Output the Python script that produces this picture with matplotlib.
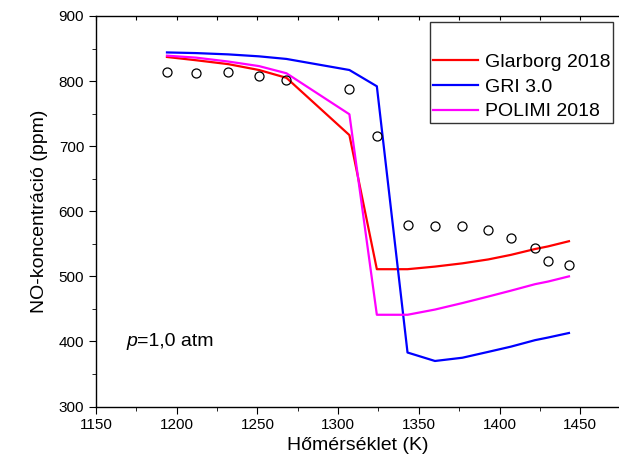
import matplotlib
matplotlib.use("Agg")
import matplotlib.pyplot as plt
from matplotlib.ticker import MultipleLocator

plt.rcParams['font.family'] = ['Liberation Sans', 'DejaVu Sans']

# temperatures (K)
temp = [1194, 1212, 1232, 1251, 1268, 1307, 1324, 1343, 1360, 1377,
        1393, 1407, 1422, 1430, 1443]

# measured NO (ppm)
exp_no = [814, 813, 814, 808, 802, 788, 716, 579, 578, 577,
          571, 559, 543, 523, 517]

# model results (ppm)
glarborg = [837, 832, 826, 817, 805, 717, 511, 511, 515, 520,
            526, 533, 542, 546, 554]
gri = [844, 843, 841, 838, 834, 817, 792, 383, 370, 375,
       384, 392, 402, 406, 413]
polimi = [839, 836, 830, 823, 812, 749, 441, 441, 449, 459,
          469, 478, 488, 492, 500]

fig = plt.figure(figsize=(6.19, 4.70), dpi=100)
ax = fig.add_axes([0.155, 0.135, 0.845, 0.831])

ax.plot(temp, glarborg, color='#ff0000', lw=1.6, label='Glarborg 2018')
ax.plot(temp, gri, color='#0000ff', lw=1.6, label='GRI 3.0')
ax.plot(temp, polimi, color='#ff00ff', lw=1.6, label='POLIMI 2018')
ax.plot(temp, exp_no, 'o', mfc='none', mec='black', ms=6.5, mew=0.9)

ax.set_xlim(1150, 1474)
ax.set_ylim(300, 900)
ax.xaxis.set_major_locator(MultipleLocator(50))
ax.xaxis.set_minor_locator(MultipleLocator(25))
ax.yaxis.set_major_locator(MultipleLocator(100))
ax.yaxis.set_minor_locator(MultipleLocator(50))
ax.tick_params(axis='both', which='both', direction='out', labelsize=11)
ax.tick_params(which='major', length=5)
ax.tick_params(which='minor', length=3)
ax.spines['right'].set_visible(False)
for s in ['left', 'bottom', 'top']:
    ax.spines[s].set_linewidth(1.0)

# small inward ticks along the top edge
top = ax.secondary_xaxis('top')
top.xaxis.set_major_locator(MultipleLocator(25))
top.tick_params(direction='in', length=3, labeltop=False)
top.spines['top'].set_visible(False)

ax.set_xlabel('Hőmérséklet (K)', fontsize=14, labelpad=3)
ax.set_ylabel('NO-koncentráció (ppm)', fontsize=14, labelpad=8)

ax.text(1169, 400, 'p', fontsize=14, va='center', style='italic')
ax.text(1175.5, 400, '=1,0 atm', fontsize=14, va='center')

leg = ax.legend(loc='upper right', bbox_to_anchor=(0.9885, 0.9854), title=' ',
                fontsize=14, title_fontsize=17, frameon=True, fancybox=False,
                edgecolor='black', handlelength=2.3, handletextpad=0.36,
                labelspacing=0.36, borderpad=0.15, borderaxespad=0)
leg.get_frame().set_linewidth(1.0)

fig.savefig('out.png', dpi=100)
